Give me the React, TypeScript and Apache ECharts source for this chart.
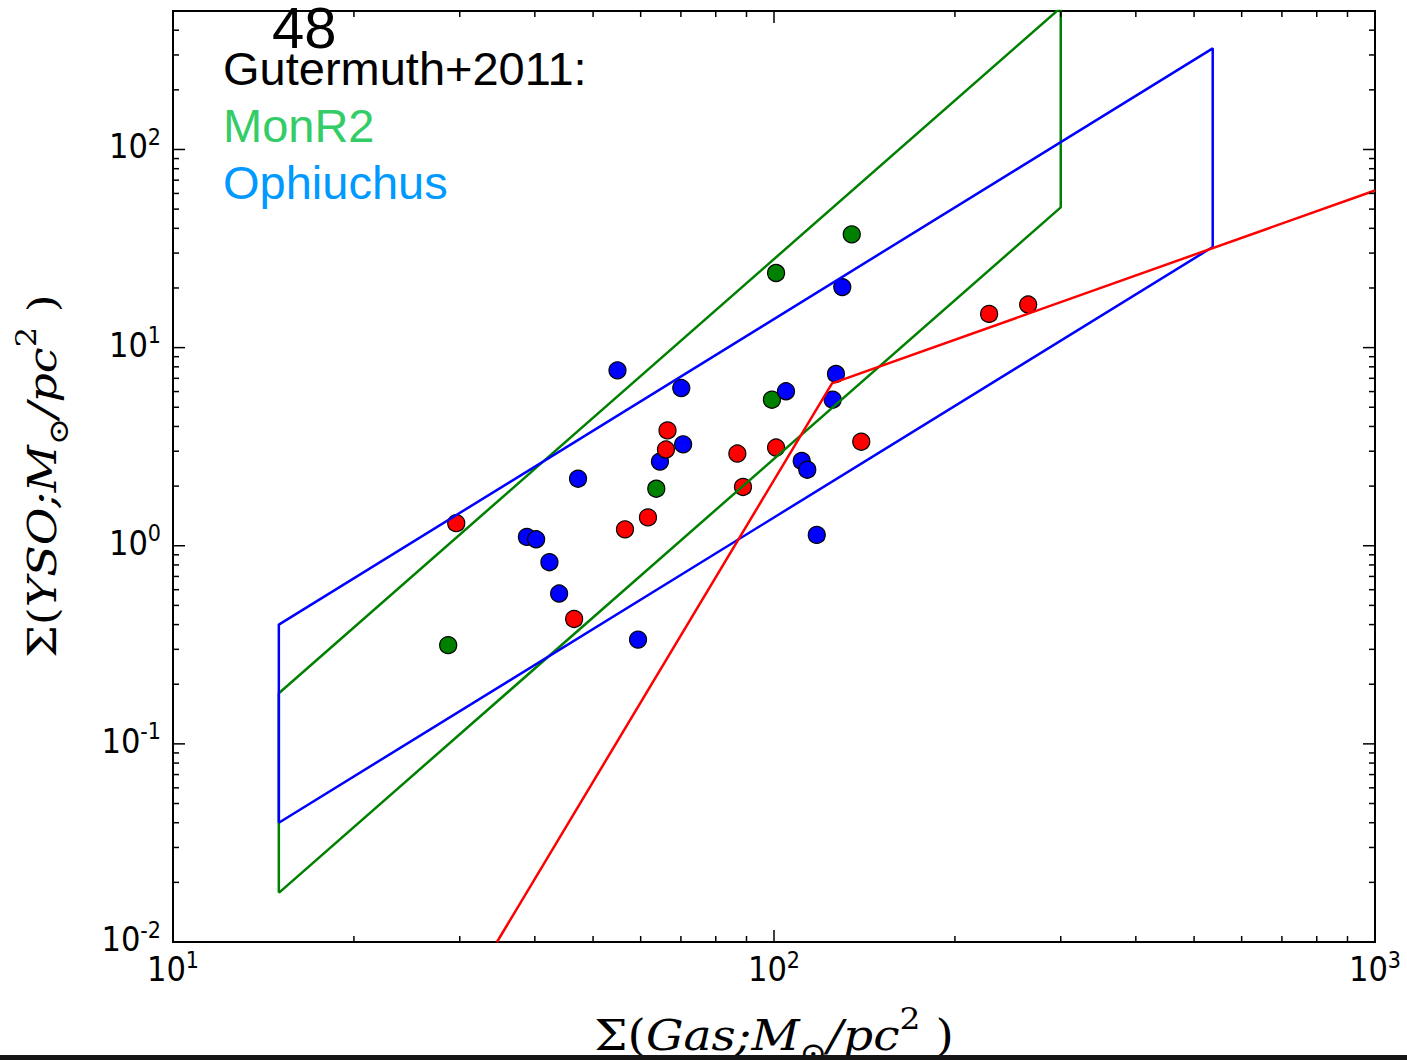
import React, { useEffect, useRef } from "react";
import * as echarts from "echarts";

// Axis ranges
const X_MIN = 10;
const X_MAX = 1000;
const Y_MIN = 0.01;
const Y_MAX = 500;

// Scatter points [gas surface density, YSO surface density]
const monR2Points: [number, number][] = [
  [134.7, 37.3],
  [100.8, 23.8],
  [99.2, 5.46],
  [63.7, 1.94],
  [28.7, 0.315],
];

const ophiuchusPoints: [number, number][] = [
  [129.9, 20.2],
  [54.9, 7.68],
  [70.1, 6.25],
  [126.8, 7.36],
  [104.7, 6.02],
  [125.2, 5.46],
  [70.6, 3.25],
  [64.6, 2.66],
  [111.2, 2.68],
  [113.6, 2.42],
  [47.2, 2.18],
  [38.8, 1.108],
  [40.2, 1.078],
  [117.8, 1.134],
  [42.3, 0.826],
  [43.9, 0.574],
  [59.4, 0.336],
];

const redPoints: [number, number][] = [
  [66.5, 3.82],
  [66.1, 3.06],
  [86.9, 2.92],
  [100.8, 3.13],
  [139.7, 3.35],
  [88.8, 1.98],
  [61.7, 1.39],
  [56.5, 1.21],
  [29.6, 1.3],
  [46.5, 0.427],
  [228, 14.8],
  [264.8, 16.5],
];

// Gutermuth+2011 regions and broken power law
const monR2Box: [number, number][] = [
  [15, 0.0177],
  [300, 51],
  [300, 520],
  [15, 0.18],
  [15, 0.0177],
];
const ophiuchusBox: [number, number][] = [
  [15, 0.04],
  [537, 32.2],
  [537, 324],
  [15, 0.4],
  [15, 0.04],
];
const redModel: [number, number][] = [
  [34.6, 0.01],
  [124.9, 6.6],
  [1000, 62.1],
];

// Ticks
const xMajorTicks = [10, 100, 1000];
const xMinorTicks = [20, 30, 40, 50, 60, 70, 80, 90, 200, 300, 400, 500, 600, 700, 800, 900];
const yMajorTicks = [0.01, 0.1, 1, 10, 100];
const yMinorTicks = [
  0.02, 0.03, 0.04, 0.05, 0.06, 0.07, 0.08, 0.09,
  0.2, 0.3, 0.4, 0.5, 0.6, 0.7, 0.8, 0.9,
  2, 3, 4, 5, 6, 7, 8, 9,
  20, 30, 40, 50, 60, 70, 80, 90,
  200, 300, 400,
];

// Texts
const stampText = "48";
const legendTitle = "Gutermuth+2011:";
const legendMonR2 = "MonR2";
const legendOph = "Ophiuchus";

const COLOR_GREEN = "#008000";
const COLOR_BLUE = "#0000ff";
const COLOR_RED = "#ff0000";

const TICK_FONT = "'Liberation Sans Narrow', 'DejaVu Sans Condensed', 'Liberation Sans', sans-serif";
const SERIF = "'DejaVu Serif', 'Liberation Serif', serif";
const SANS = "'Liberation Sans', Arial, sans-serif";

function tickFormatter(value: number): string {
  const l = Math.log10(value);
  const e = Math.round(l);
  if (Math.abs(l - e) > 1e-6) return "";
  return `{b|10}{s|${e}}`;
}

const tickRich = {
  b: { fontFamily: TICK_FONT, fontSize: 34, lineHeight: 42, color: "#000" },
  s: { fontFamily: TICK_FONT, fontSize: 23, lineHeight: 23, verticalAlign: "top", color: "#000" },
};

function tickSeries(values: number[], axis: "x" | "y", len: number) {
  return {
    type: "custom",
    coordinateSystem: "cartesian2d",
    silent: true,
    clip: false,
    z: 10,
    data: values.map((v) => (axis === "x" ? [v, Y_MIN] : [X_MIN, v])),
    renderItem: (_params: any, api: any) => {
      const style = { stroke: "#000", lineWidth: 1.5 };
      if (axis === "x") {
        const v = api.value(0);
        const b = api.coord([v, Y_MIN]);
        const t = api.coord([v, Y_MAX]);
        return {
          type: "group",
          children: [
            { type: "line", shape: { x1: b[0], y1: b[1], x2: b[0], y2: b[1] - len }, style },
            { type: "line", shape: { x1: t[0], y1: t[1], x2: t[0], y2: t[1] + len }, style },
          ],
        };
      }
      const v = api.value(1);
      const l = api.coord([X_MIN, v]);
      const r = api.coord([X_MAX, v]);
      return {
        type: "group",
        children: [
          { type: "line", shape: { x1: l[0], y1: l[1], x2: l[0] + len, y2: l[1] }, style },
          { type: "line", shape: { x1: r[0], y1: r[1], x2: r[0] - len, y2: r[1] }, style },
        ],
      };
    },
  };
}

function scatter(name: string, data: [number, number][], color: string) {
  return {
    name,
    type: "scatter",
    data,
    symbol: "circle",
    symbolSize: 17,
    z: 2,
    itemStyle: { color, borderColor: "#000", borderWidth: 1.2, opacity: 1 },
  };
}

function line(name: string, data: [number, number][], color: string) {
  return {
    name,
    type: "line",
    data,
    symbol: "none",
    showSymbol: false,
    clip: true,
    z: 3,
    lineStyle: { color, width: 2.5 },
  };
}

const titleRich = (size: number) => ({
  n: { fontFamily: SERIF, fontSize: size, lineHeight: size * 1.5, color: "#000" },
  i: { fontFamily: SERIF, fontSize: size, fontStyle: "italic", lineHeight: size * 1.5, color: "#000" },
  sub: { fontFamily: SERIF, fontSize: size * 0.7, lineHeight: size * 0.7, verticalAlign: "bottom", color: "#000" },
  sup: { fontFamily: SERIF, fontSize: size * 0.7, lineHeight: size * 0.7, verticalAlign: "top", color: "#000" },
});

export default function App() {
  const ref = useRef<HTMLDivElement>(null);

  useEffect(() => {
    document.body.style.margin = "0";
    if (!ref.current) return;
    const chart = echarts.init(ref.current, undefined, { renderer: "svg" });

    const option: any = {
      animation: false,
      backgroundColor: "#ffffff",
      grid: {
        left: 173,
        right: 32,
        top: 11,
        bottom: 118,
        show: true,
        borderColor: "#000",
        borderWidth: 2,
        backgroundColor: "transparent",
      },
      xAxis: {
        type: "log",
        logBase: 10,
        min: X_MIN,
        max: X_MAX,
        axisLine: { show: false },
        axisTick: { show: false },
        splitLine: { show: false },
        minorTick: { show: false },
        axisLabel: { formatter: tickFormatter, rich: tickRich, margin: 6 },
      },
      yAxis: {
        type: "log",
        logBase: 10,
        min: Y_MIN,
        max: Y_MAX,
        axisLine: { show: false },
        axisTick: { show: false },
        splitLine: { show: false },
        minorTick: { show: false },
        axisLabel: {
          formatter: tickFormatter,
          rich: tickRich,
          margin: 12,
          showMaxLabel: false,
          padding: [0, 0, 6, 0],
        },
      },
      series: [
        scatter("MonR2", monR2Points, COLOR_GREEN),
        scatter("Ophiuchus", ophiuchusPoints, COLOR_BLUE),
        scatter("Other", redPoints, COLOR_RED),
        line("MonR2 region", monR2Box, COLOR_GREEN),
        line("Ophiuchus region", ophiuchusBox, COLOR_BLUE),
        line("Model", redModel, COLOR_RED),
        tickSeries(xMajorTicks, "x", 12),
        tickSeries(xMinorTicks, "x", 6),
        tickSeries(yMajorTicks, "y", 12),
        tickSeries(yMinorTicks, "y", 6),
      ],
      graphic: [
        {
          type: "text",
          x: 774,
          y: 1036,
          scaleX: 1.12,
          z: 50,
          style: {
            text: "{n|Σ(}{i|Gas;M}{sub|⊙}{i|/pc}{sup|2}{n| )}",
            rich: titleRich(42),
            align: "center",
            verticalAlign: "middle",
          },
        },
        {
          type: "text",
          x: 42,
          y: 476,
          rotation: Math.PI / 2,
          scaleX: 1.15,
          z: 50,
          style: {
            text: "{n|Σ(}{i|YSO;M}{sub|⊙}{i|/pc}{sup|2}{n| )}",
            rich: titleRich(40),
            align: "center",
            verticalAlign: "middle",
          },
        },
        {
          type: "text",
          x: 272,
          y: 27,
          z: 60,
          style: {
            text: stampText,
            fontFamily: SANS,
            fontSize: 58,
            lineHeight: 44,
            fill: "#000",
            align: "left",
            verticalAlign: "middle",
          },
        },
        {
          type: "text",
          x: 223,
          y: 68,
          z: 60,
          style: {
            text: legendTitle,
            fontFamily: SANS,
            fontSize: 47,
            fill: "#000",
            align: "left",
            verticalAlign: "middle",
          },
        },
        {
          type: "text",
          x: 223,
          y: 125,
          z: 60,
          style: {
            text: legendMonR2,
            fontFamily: SANS,
            fontSize: 47,
            fill: "#33cc66",
            align: "left",
            verticalAlign: "middle",
          },
        },
        {
          type: "text",
          x: 223,
          y: 182,
          z: 60,
          style: {
            text: legendOph,
            fontFamily: SANS,
            fontSize: 47,
            fill: "#0099ff",
            align: "left",
            verticalAlign: "middle",
          },
        },
        {
          type: "rect",
          z: 70,
          shape: { x: 0, y: 1055, width: 1407, height: 5 },
          style: { fill: "#151515" },
        },
      ],
    };

    chart.setOption(option);
    return () => {
      chart.dispose();
    };
  }, []);

  return <div ref={ref} style={{ width: 1407, height: 1060 }} />;
}
